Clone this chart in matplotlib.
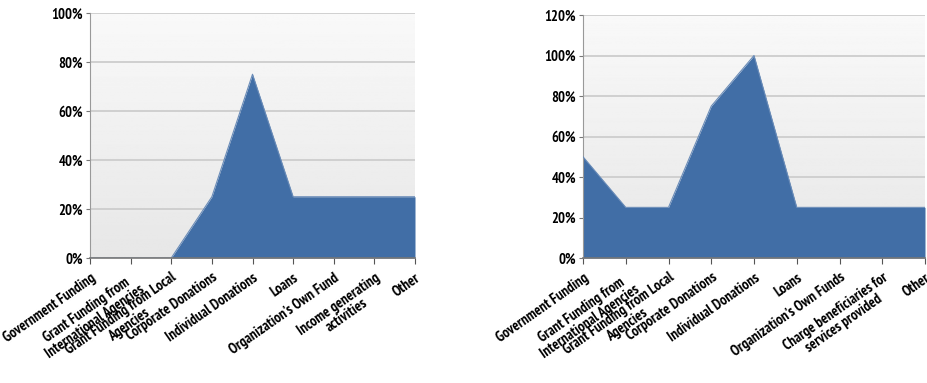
import numpy as np
from matplotlib import pyplot as plt
from matplotlib.ticker import FuncFormatter
from matplotlib import font_manager

# funding sources, per organisation group
left_labels = ["Government Funding", "Grant Funding from\nInternational Agencies",
               "Grant Funding from Local\nAgencies", "Corporate Donations",
               "Individual Donations", "Loans", "Organization's Own Fund",
               "Income generating\nactivities", "Other"]
left_values = [0, 0, 0, 25, 75, 25, 25, 25, 25]
left_ticks = [0, 20, 40, 60, 80, 100]

right_labels = ["Government Funding", "Grant Funding from\nInternational Agencies",
                "Grant Funding from Local\nAgencies", "Corporate Donations",
                "Individual Donations", "Loans", "Organization's Own Funds",
                "Charge beneficiaries for\nservices provided", "Other"]
right_values = [50, 25, 25, 75, 100, 25, 25, 25, 25]
right_ticks = [0, 20, 40, 60, 80, 100, 120]

names = {f.name for f in font_manager.fontManager.ttflist}
family = [n for n in ("PT Sans Narrow", "Roboto Condensed", "Liberation Sans") if n in names]
plt.rcParams['font.family'] = family + ["DejaVu Sans"]

fill_color = "#416ea6"
pct = FuncFormatter(lambda v, _: f"{int(v)}%")


def draw_area(ax, labels, values, ticks):
    x = np.arange(len(values))
    # soft vertical gradient behind the plot, lighter at the top
    grad = np.linspace(0.975, 0.905, 256).reshape(-1, 1)
    ax.imshow(grad, cmap="gray", vmin=0, vmax=1, aspect="auto",
              extent=[0, 1, 0, 1], transform=ax.transAxes, zorder=0)
    for t in ticks[1:]:
        ax.axhline(t, color="#cdcdcd", lw=1.3, zorder=1)
    ax.fill_between(x, 0, values, color=fill_color, lw=0, zorder=2)
    ax.plot(x, values, color="#6a8cb8", lw=0.8, zorder=3)
    ax.set_xlim(0, len(values) - 1)
    ax.set_ylim(0, ticks[-1])
    ax.set_yticks(ticks)
    ax.yaxis.set_major_formatter(pct)
    ax.set_xticks(x)
    ax.set_xticklabels(labels, rotation=35, ha="right", rotation_mode="anchor",
                       multialignment="center", fontsize=10.5, fontweight="bold",
                       linespacing=1.0)
    for lab in ax.get_yticklabels():
        lab.set_fontsize(10.5)
        lab.set_fontweight("bold")
    ax.tick_params(axis="x", length=4, color="#555555", pad=5)
    ax.tick_params(axis="y", length=3, color="#777777", pad=2)
    for side in ["top", "right"]:
        ax.spines[side].set_visible(False)
    ax.spines["left"].set_color("#999999")
    ax.spines["bottom"].set_color("#777777")
    ax.spines["bottom"].set_linewidth(1.2)
    ax.spines["bottom"].set_zorder(4)


fig = plt.figure(figsize=(9.27, 3.83), dpi=100)
ax1 = fig.add_axes([90 / 927, 125 / 383, 325 / 927, 245 / 383])
ax2 = fig.add_axes([583 / 927, 125 / 383, 342 / 927, 243 / 383])

draw_area(ax1, left_labels, left_values, left_ticks)
draw_area(ax2, right_labels, right_values, right_ticks)

fig.savefig("out.png", dpi=100)
